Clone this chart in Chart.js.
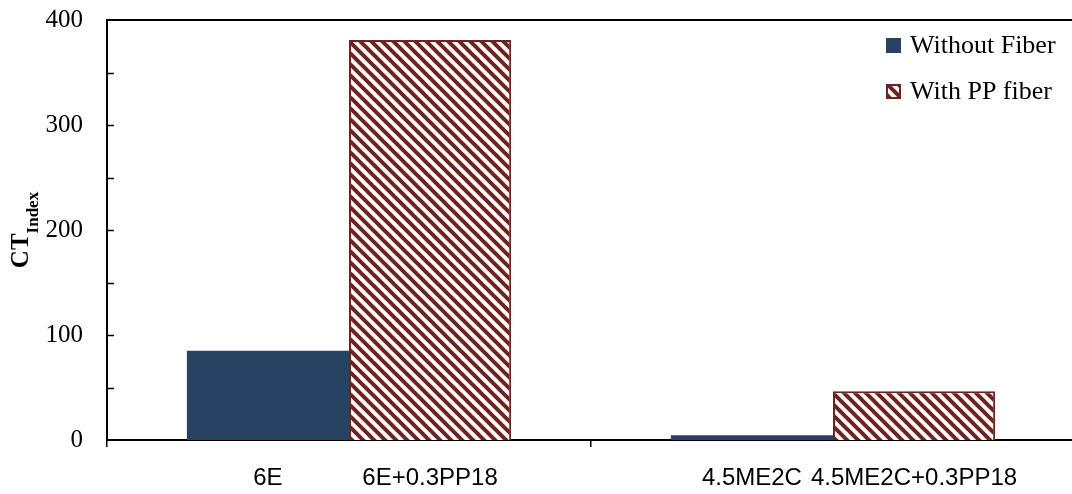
<!DOCTYPE html>
<html>
<head>
<meta charset="utf-8">
<script src="https://cdn.jsdelivr.net/npm/chart.js@4.4.1/dist/chart.umd.min.js"></script>
<style>
  html, body { margin: 0; padding: 0; overflow: hidden; background: #fff; }
  canvas { display: block; }
</style>
</head>
<body>
<canvas id="chart" width="1080" height="494"></canvas>
<script>
// data
const groups = ["6E", "4.5ME2C"];
const labelsWithout = ["6E", "4.5ME2C"];
const labelsWith = ["6E+0.3PP18", "4.5ME2C+0.3PP18"];
const withoutFiber = [85, 4.5];
const withPPFiber = [381, 46.5];
const seriesNames = ["Without Fiber", "With PP fiber"];
const yMin = 0, yMax = 400, yStep = 100, yMinorStep = 50;

const BLUE = "#284263";
const MAROON = "#6e2320";

// diagonal hatch "\\\\"
function hatch(color) {
    const s = 11;
    const c = document.createElement("canvas");
    c.width = s; c.height = s;
    const g = c.getContext("2d");
    g.fillStyle = "#fff";
    g.fillRect(0, 0, s, s);
    g.strokeStyle = color;
    g.lineWidth = 4;
    for (let k = -1; k <= 1; k++) {
        g.beginPath();
        g.moveTo(k * s - 2, -2);
        g.lineTo(k * s + s + 2, s + 2);
        g.stroke();
    }
    return g.createPattern(c, "repeat");
}
const hatchFill = hatch(MAROON);

// extra drawing: top line, inward y ticks, bar labels, y title, legend
const decor = {
    id: "decor",
    afterDraw(chart) {
        const ctx = chart.ctx;
        const a = chart.chartArea;
        const y = chart.scales.y;
        ctx.save();

        // top border
        ctx.strokeStyle = "#000";
        ctx.lineWidth = 2;
        ctx.beginPath();
        ctx.moveTo(a.left, a.top);
        ctx.lineTo(a.right, a.top);
        ctx.stroke();

        // inward ticks every 50
        ctx.lineWidth = 1.5;
        for (let v = yMin + yMinorStep; v < yMax; v += yMinorStep) {
            const py = Math.round(y.getPixelForValue(v)) + 0.5;
            ctx.beginPath();
            ctx.moveTo(a.left, py);
            ctx.lineTo(a.left + 7, py);
            ctx.stroke();
        }

        // labels under each bar
        ctx.fillStyle = "#000";
        ctx.font = "24px 'Liberation Sans', Arial, sans-serif";
        ctx.textAlign = "center";
        ctx.textBaseline = "middle";
        const m0 = chart.getDatasetMeta(0).data;
        const m1 = chart.getDatasetMeta(1).data;
        groups.forEach((g, i) => {
            ctx.fillText(labelsWithout[i], m0[i].x, a.bottom + 38);
            ctx.fillText(labelsWith[i], m1[i].x, a.bottom + 38);
        });

        // y title CT with subscript Index
        const cy = (a.top + a.bottom) / 2;
        ctx.translate(28, cy);
        ctx.rotate(-Math.PI / 2);
        ctx.textAlign = "left";
        ctx.textBaseline = "alphabetic";
        const big = "bold 25px 'Liberation Serif', 'Times New Roman', serif";
        const small = "bold 17px 'Liberation Serif', 'Times New Roman', serif";
        ctx.font = big;
        const w1 = ctx.measureText("CT").width;
        ctx.font = small;
        const w2 = ctx.measureText("Index").width;
        const x0 = -(w1 + w2) / 2;
        ctx.font = big;
        ctx.fillText("CT", x0, 0);
        ctx.font = small;
        ctx.fillText("Index", x0 + w1, 10);
        ctx.setTransform(1, 0, 0, 1, 0, 0);

        // legend inside plot, top right
        const fills = [BLUE, hatchFill];
        ctx.font = "26px 'Liberation Serif', 'Times New Roman', serif";
        ctx.textAlign = "left";
        ctx.textBaseline = "middle";
        seriesNames.forEach((name, i) => {
            const bx = a.right - 189;
            const by = a.top + 18 + i * 46;
            ctx.fillStyle = fills[i];
            ctx.fillRect(bx, by, 15, 15);
            if (i === 1) {
                ctx.strokeStyle = MAROON;
                ctx.lineWidth = 2;
                ctx.strokeRect(bx + 1, by + 1, 13, 13);
            }
            ctx.fillStyle = "#000";
            ctx.fillText(name, bx + 24, by + 8);
        });

        ctx.restore();
    }
};

new Chart(document.getElementById("chart"), {
    type: "bar",
    data: {
        labels: groups,
        datasets: [{
            label: seriesNames[0],
            data: withoutFiber,
            backgroundColor: BLUE,
            borderWidth: 0
        }, {
            label: seriesNames[1],
            data: withPPFiber,
            backgroundColor: hatchFill,
            borderColor: MAROON,
            borderWidth: 2
        }]
    },
    options: {
        responsive: false,
        animation: false,
        devicePixelRatio: 1,
        layout: { padding: { top: 20, right: 5, left: 0, bottom: 0 } },
        datasets: { bar: { categoryPercentage: 0.67, barPercentage: 1.0 } },
        plugins: {
            legend: { display: false },
            tooltip: { enabled: false }
        },
        scales: {
            x: {
                offset: true,
                ticks: { display: false },
                grid: {
                    display: true,
                    offset: true,
                    drawOnChartArea: false,
                    drawTicks: true,
                    tickLength: 7,
                    color: "#000",
                    lineWidth: 1.5
                },
                border: { display: true, color: "#000", width: 2 },
                afterFit: s => { s.height = 54; s.paddingLeft = 0; s.paddingRight = 0; }
            },
            y: {
                min: yMin,
                max: yMax,
                ticks: {
                    stepSize: yStep,
                    color: "#000",
                    padding: 24,
                    font: { family: "'Liberation Serif', 'Times New Roman', serif", size: 25 }
                },
                grid: { display: false, drawTicks: false },
                border: { display: true, color: "#000", width: 2 },
                afterFit: s => { s.width = 107; s.paddingTop = 0; s.paddingBottom = 0; }
            }
        }
    },
    plugins: [decor]
});
</script>
</body>
</html>
